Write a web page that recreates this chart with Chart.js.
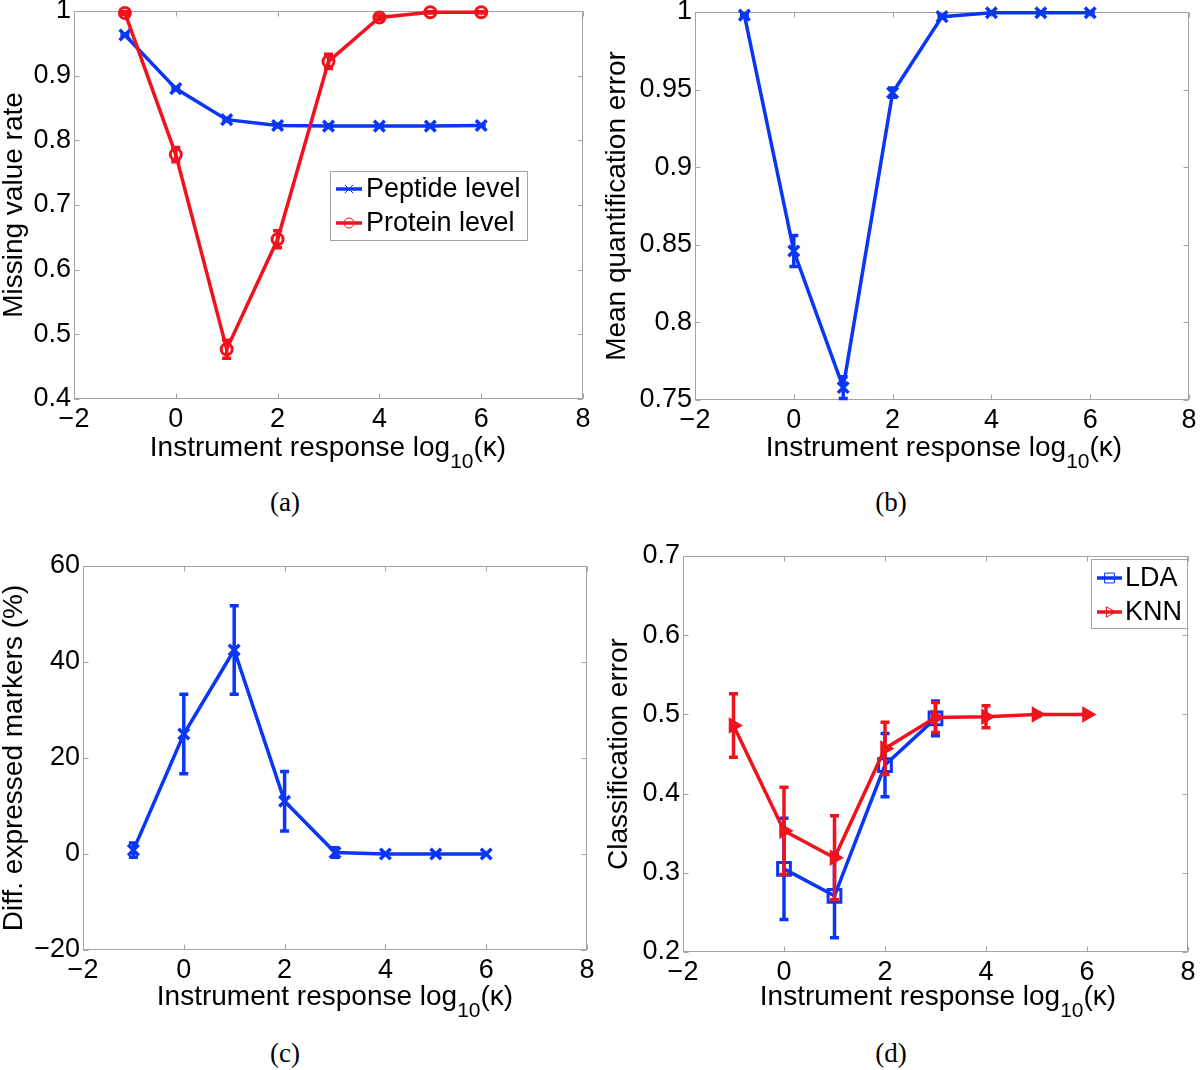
<!DOCTYPE html>
<html><head><meta charset="utf-8">
<script src="https://cdn.jsdelivr.net/npm/chart.js@4.4.1/dist/chart.umd.min.js"></script>
<style>
html,body{margin:0;padding:0;background:#fff;}
#wrap{position:relative;width:1200px;height:1070px;overflow:hidden;background:#fff;}
canvas{position:absolute;}
.xt{position:absolute;width:500px;font-family:'Liberation Sans';font-size:28px;line-height:28px;color:#000;text-align:center;white-space:nowrap;}
.xt .sub{font-size:21px;position:relative;top:12px;}
.cap{position:absolute;width:60px;font-family:'Liberation Serif';font-size:27px;line-height:30px;color:#000;text-align:center;}
</style></head><body><div id="wrap">
<canvas id="ca" width="600" height="470" style="left:0;top:0"></canvas>
<canvas id="cb" width="600" height="470" style="left:600px;top:0"></canvas>
<canvas id="cc" width="600" height="500" style="left:0;top:520px"></canvas>
<canvas id="cd" width="600" height="500" style="left:600px;top:520px"></canvas>
<div class="xt" style="left:78px;top:433px">Instrument response log<span class="sub">10</span>(κ)</div>
<div class="xt" style="left:694px;top:433px">Instrument response log<span class="sub">10</span>(κ)</div>
<div class="xt" style="left:85px;top:982px">Instrument response log<span class="sub">10</span>(κ)</div>
<div class="xt" style="left:688px;top:982px">Instrument response log<span class="sub">10</span>(κ)</div>
<div class="cap" style="left:255px;top:487px">(a)</div>
<div class="cap" style="left:861px;top:487px">(b)</div>
<div class="cap" style="left:255px;top:1038px">(c)</div>
<div class="cap" style="left:861px;top:1038px">(d)</div>
</div>
<script>
// ---------- data ----------
const kappa = [-1, 0, 1, 2, 3, 4, 5, 6];
const xTickVals = [-2, 0, 2, 4, 6, 8];
const xTickLabels = ['\u22122', '0', '2', '4', '6', '8'];

// (a) missing value rate
const aYTicks = [0.4, 0.5, 0.6, 0.7, 0.8, 0.9, 1];
const aYLabels = ['0.4', '0.5', '0.6', '0.7', '0.8', '0.9', '1'];
const peptide = [0.963, 0.880, 0.832, 0.823, 0.822, 0.822, 0.822, 0.823];
const peptideErr = [0.002, 0.002, 0.002, 0.002, 0.002, 0.001, 0.001, 0.001];
const protein = [0.997, 0.778, 0.477, 0.647, 0.922, 0.990, 0.998, 0.998];
const proteinErr = [0.002, 0.011, 0.014, 0.013, 0.011, 0.003, 0.001, 0.001];

// (b) mean quantification error
const bYTicks = [0.75, 0.8, 0.85, 0.9, 0.95, 1];
const bYLabels = ['0.75', '0.8', '0.85', '0.9', '0.95', '1'];
const quantError = [0.998, 0.846, 0.758, 0.948, 0.997, 0.9995, 0.9995, 0.9995];
const quantErrorSd = [0.001, 0.010, 0.007, 0.003, 0.001, 0.0005, 0.0005, 0.0005];

// (c) diff. expressed markers (%)
const cYTicks = [-20, 0, 20, 40, 60];
const cYLabels = ['\u221220', '0', '20', '40', '60'];
const diffMarkers = [0.8, 25, 42.5, 11, 0.3, 0, 0, 0];
const diffMarkersErr = [1.5, 8.3, 9.2, 6.2, 1.0, 0, 0, 0];

// (d) classification error
const dYTicks = [0.2, 0.3, 0.4, 0.5, 0.6, 0.7];
const dYLabels = ['0.2', '0.3', '0.4', '0.5', '0.6', '0.7'];
const lda = [null, 0.305, 0.271, 0.436, 0.495, null, null, null];
const ldaErr = [null, 0.064, 0.053, 0.040, 0.022, null, null, null];
const knn = [0.486, 0.353, 0.319, 0.457, 0.496, 0.497, 0.500, 0.500];
const knnErr = [0.040, 0.055, 0.053, 0.033, 0.019, 0.014, 0.002, 0.001];

// ---------- styling ----------
const BLUE = '#0a36f5';
const RED = '#f0121c';
const TICKFONT = {family: 'Liberation Sans', size: 27, lineHeight: 1};
Chart.defaults.font.family = 'Liberation Sans';
Chart.defaults.color = '#000';

const pts = (vals) => kappa.map((x, i) => ({x: x, y: vals[i]}));

const boxPlugin = {
  id: 'mbox',
  beforeDatasetsDraw(chart) {
    const {ctx, chartArea: a, scales: {x, y}} = chart;
    ctx.save();
    ctx.strokeStyle = '#a3a3a3';
    ctx.lineWidth = 1;
    const L = Math.round(a.left) + 0.5, R = Math.round(a.right) - 0.5;
    const T = Math.round(a.top) + 0.5, B = Math.round(a.bottom) - 0.5;
    ctx.strokeRect(L, T, R - L, B - T);
    ctx.beginPath();
    x.ticks.forEach(t => {
      const p = Math.round(x.getPixelForValue(t.value)) + 0.5;
      ctx.moveTo(p, B); ctx.lineTo(p, B - 5);
      ctx.moveTo(p, T); ctx.lineTo(p, T + 5);
    });
    y.ticks.forEach(t => {
      const p = Math.round(y.getPixelForValue(t.value)) + 0.5;
      ctx.moveTo(L, p); ctx.lineTo(L + 5, p);
      ctx.moveTo(R, p); ctx.lineTo(R - 5, p);
    });
    ctx.stroke();
    ctx.restore();
  }
};

const errPlugin = {
  id: 'errbars',
  afterDatasetDraw(chart, args) {
    const ds = chart.data.datasets[args.index];
    if (!ds.errors) return;
    const ctx = chart.ctx, xs = chart.scales.x, ys = chart.scales.y;
    ctx.save();
    ctx.strokeStyle = ds.borderColor;
    ctx.lineWidth = 3.5;
    ctx.beginPath();
    ds.data.forEach((d, i) => {
      const e = ds.errors[i];
      if (d.y == null || !e) return;
      const px = xs.getPixelForValue(d.x);
      const y1 = ys.getPixelForValue(d.y + e), y2 = ys.getPixelForValue(d.y - e);
      ctx.moveTo(px, y1); ctx.lineTo(px, y2);
      ctx.moveTo(px - 4.5, y1); ctx.lineTo(px + 4.5, y1);
      ctx.moveTo(px - 4.5, y2); ctx.lineTo(px + 4.5, y2);
    });
    ctx.stroke();
    ctx.restore();
  }
};

const legendPlugin = {
  id: 'mlegend',
  afterDatasetsDraw(chart, args, opts) {
    if (!opts || !opts.box) return;
    const ctx = chart.ctx;
    const [x0, y0, x1, y1] = opts.box;
    ctx.save();
    ctx.fillStyle = '#fff';
    ctx.fillRect(x0, y0, x1 - x0, y1 - y0);
    ctx.strokeStyle = '#a3a3a3';
    ctx.lineWidth = 1;
    ctx.strokeRect(x0 + 0.5, y0 + 0.5, x1 - x0 - 1, y1 - y0 - 1);
    opts.items.forEach(it => {
      ctx.strokeStyle = it.color;
      ctx.lineWidth = 3.5;
      ctx.beginPath();
      ctx.moveTo(opts.lineX[0], it.y); ctx.lineTo(opts.lineX[1], it.y);
      ctx.stroke();
      ctx.lineWidth = 1;
      ctx.fillStyle = 'rgba(255,255,255,0)';
      Chart.helpers.drawPoint(ctx, {pointStyle: it.style, radius: it.r, rotation: it.rot || 0, borderWidth: 1},
        (opts.lineX[0] + opts.lineX[1]) / 2, it.y);
      ctx.fillStyle = '#000';
      ctx.font = '27px "Liberation Sans"';
      ctx.textBaseline = 'middle';
      ctx.textAlign = 'left';
      ctx.fillText(it.label, opts.textX, it.y + 1);
    });
    ctx.restore();
  }
};

function makeChart(id, p, datasets, legend) {
  return new Chart(document.getElementById(id), {
    type: 'line',
    data: {datasets: datasets},
    plugins: [boxPlugin, errPlugin, legendPlugin],
    options: {
      responsive: false,
      animation: false,
      devicePixelRatio: 1,
      layout: {padding: {left: 0, top: p.padTop, right: p.padRight, bottom: p.padBottom}},
      plugins: {legend: {display: false}, tooltip: {enabled: false}, mlegend: legend || {}},
      scales: {
        x: {
          type: 'linear', min: -2, max: 8,
          afterBuildTicks: s => { s.ticks = xTickVals.map(v => ({value: v})); },
          afterFit: s => { s.height = 40; s.paddingLeft = 0; s.paddingRight = 0; },
          ticks: {autoSkip: false, maxRotation: 0, minRotation: 0, padding: 7, font: TICKFONT, color: '#000',
                  callback: (v, i) => xTickLabels[i]},
          grid: {display: false, drawTicks: false}, border: {display: false}
        },
        y: {
          type: 'linear', min: p.yMin, max: p.yMax,
          afterBuildTicks: s => { s.ticks = p.yTicks.map(v => ({value: v})); },
          afterFit: s => { s.width = p.yW; s.paddingTop = 0; s.paddingBottom = 0; },
          ticks: {autoSkip: false, padding: 3, font: TICKFONT, color: '#000',
                  callback: (v, i) => p.yLabels[i]},
          title: {display: true, text: p.yTitle, color: '#000',
                  font: {family: 'Liberation Sans', size: 28, lineHeight: 1},
                  padding: {top: p.yTitlePad, bottom: 0}},
          grid: {display: false, drawTicks: false}, border: {display: false}
        }
      }
    }
  });
}

function line(vals, errs, color, style, r, pbw, fill, order, rot) {
  return {
    data: pts(vals), errors: errs, order: order,
    borderColor: color, backgroundColor: color, borderWidth: 3.5,
    pointStyle: style, pointRadius: r, pointBorderWidth: pbw, pointRotation: rot || 0,
    pointBorderColor: color, pointBackgroundColor: fill ? color : 'rgba(255,255,255,0)',
    tension: 0, fill: false, clip: false, spanGaps: false
  };
}

// (a)
makeChart('ca',
  {padTop: 9, padRight: 17, padBottom: 31, yW: 74, yMin: 0.4, yMax: 1, yTicks: aYTicks, yLabels: aYLabels,
   yTitle: 'Missing value rate', yTitlePad: 0},
  [line(peptide, peptideErr, BLUE, 'crossRot', 7.5, 3.5, true, 1),
   line(protein, proteinErr, RED, 'circle', 5.5, 3, false, 0)],
  {box: [330, 171, 528, 241], lineX: [336, 362], textX: 366,
   items: [{label: 'Peptide level', color: BLUE, style: 'crossRot', r: 6, y: 189},
           {label: 'Protein level', color: RED, style: 'circle', r: 5, y: 223}]});

// (b)
makeChart('cb',
  {padTop: 12, padRight: 7, padBottom: 30, yW: 95, yMin: 0.75, yMax: 1, yTicks: bYTicks, yLabels: bYLabels,
   yTitle: 'Mean quantification error', yTitlePad: 3},
  [line(quantError, quantErrorSd, BLUE, 'crossRot', 7.5, 3.5, true, 0)]);

// (c)
makeChart('cc',
  {padTop: 46, padRight: 13, padBottom: 30, yW: 83, yMin: -20, yMax: 60, yTicks: cYTicks, yLabels: cYLabels,
   yTitle: 'Diff. expressed markers (%)', yTitlePad: 0},
  [line(diffMarkers, diffMarkersErr, BLUE, 'crossRot', 7.5, 3.5, true, 0)]);

// (d)
makeChart('cd',
  {padTop: 36, padRight: 8, padBottom: 28, yW: 83, yMin: 0.2, yMax: 0.7, yTicks: dYTicks, yLabels: dYLabels,
   yTitle: 'Classification error', yTitlePad: 5},
  [line(lda, ldaErr, BLUE, 'rect', 9, 3, false, 1),
   line(knn, knnErr, RED, 'triangle', 7, 2.5, true, 0, 90)],
  {box: [491, 39, 588, 109], lineX: [497, 522], textX: 525,
   items: [{label: 'LDA', color: BLUE, style: 'rect', r: 7, y: 58},
           {label: 'KNN', color: RED, style: 'triangle', r: 6, rot: 90, y: 92}]});
</script>
</body></html>
